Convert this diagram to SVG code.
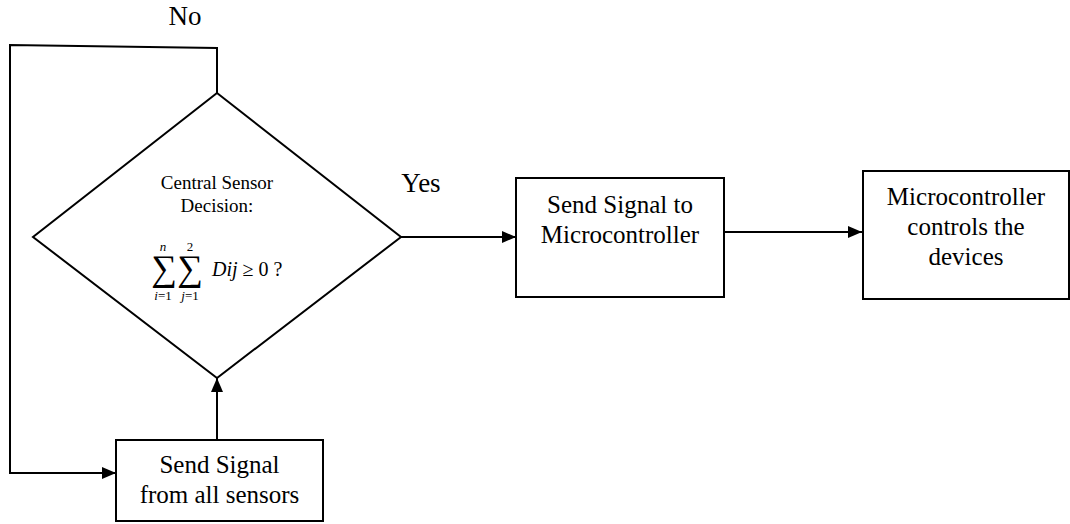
<svg xmlns="http://www.w3.org/2000/svg" width="1070" height="524" viewBox="0 0 1070 524">
<style>
.shape{fill:#fff;stroke:#000;stroke-width:2}
.line{fill:none;stroke:#000;stroke-width:2}
.t{font-family:"Liberation Serif","Times New Roman",serif;fill:#000;text-anchor:middle}
.ts{font-family:"Liberation Serif","Times New Roman",serif;fill:#000;text-anchor:start}
.big{font-size:25px}
.lbl{font-size:27px}
.mid{font-size:19px}
.sm{font-size:13px}
.sig{font-size:36px}
.it{font-style:italic}
</style>
<defs>
<marker id="ah" markerWidth="14" markerHeight="12" refX="14" refY="6" orient="auto" markerUnits="userSpaceOnUse">
<path d="M0,0 L14,6 L0,12 Z" fill="#000"/>
</marker>
</defs>
<rect width="1070" height="524" fill="#fff"/>
<g id="connectors">
<polyline class="line" points="217,93 217,48 10,45 10,473 116,473" marker-end="url(#ah)"/>
<line class="line" x1="217" y1="440" x2="217" y2="378" marker-end="url(#ah)"/>
<line class="line" x1="401" y1="237" x2="516" y2="237" marker-end="url(#ah)"/>
<line class="line" x1="724" y1="232" x2="862" y2="232" marker-end="url(#ah)"/>
<text class="t lbl" x="185" y="25">No</text>
<text class="t lbl" x="421" y="192">Yes</text>
</g>
<g id="decision">
<polygon class="shape" points="217,93 401,237 217,378 33,237"/>
<text class="t mid" x="217" y="189">Central Sensor</text>
<text class="t mid" x="217" y="212">Decision:</text>
<text class="t sig" x="164" y="280">∑</text>
<text class="t sig" x="190" y="280">∑</text>
<text class="t sm it" x="163" y="251">n</text>
<text class="t sm" x="190" y="251">2</text>
<text class="t sm" x="163" y="300"><tspan font-style="italic">i</tspan>=1</text>
<text class="t sm" x="190" y="300"><tspan font-style="italic">j</tspan>=1</text>
<text class="ts" x="212" y="276" font-size="20"><tspan font-style="italic">Dij</tspan> ≥ 0 ?</text>
</g>
<g id="send-sensors">
<rect class="shape" x="116" y="440" width="207" height="81"/>
<text class="t big" x="219.5" y="473">Send Signal</text>
<text class="t big" x="219.5" y="503">from all sensors</text>
</g>
<g id="send-micro">
<rect class="shape" x="516" y="178" width="208" height="119"/>
<text class="t big" x="620" y="213">Send Signal to</text>
<text class="t big" x="620" y="243">Microcontroller</text>
</g>
<g id="micro-controls">
<rect class="shape" x="863" y="171" width="206" height="128"/>
<text class="t big" x="966" y="205">Microcontroller</text>
<text class="t big" x="966" y="235">controls the</text>
<text class="t big" x="966" y="265">devices</text>
</g>
</svg>
